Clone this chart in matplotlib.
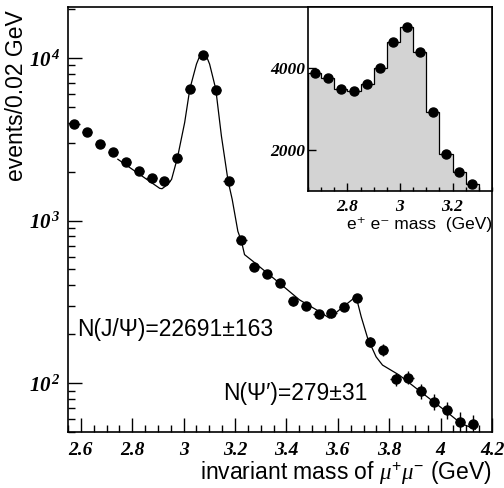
import matplotlib
matplotlib.use('Agg')
import math
import matplotlib.pyplot as plt
from matplotlib.ticker import MultipleLocator, LogLocator, NullFormatter, FuncFormatter

plt.rcParams['mathtext.fontset'] = 'custom'
plt.rcParams['mathtext.rm'] = 'Liberation Serif:bold:italic'
plt.rcParams['mathtext.it'] = 'Liberation Serif:italic'
plt.rcParams['mathtext.sf'] = 'Liberation Sans'

# mu+ mu- invariant mass spectrum (bin centres, counts, errors)
mass = [2.575, 2.625, 2.675, 2.725, 2.775, 2.825, 2.875, 2.925, 2.975, 3.025,
        3.075, 3.125, 3.175, 3.225, 3.275, 3.325, 3.375, 3.425, 3.475, 3.525,
        3.575, 3.625, 3.675, 3.725, 3.775, 3.825, 3.875, 3.925, 3.975, 4.025,
        4.075, 4.125]
counts = [3920, 3510, 2944, 2630, 2303, 2015, 1815, 1750, 2440, 6440,
          10430, 6370, 1750, 755, 517, 469, 412, 318, 298, 267,
          269, 293, 333, 180, 160, 106, 108, 89, 77, 68,
          58, 56]
errors = [63, 59, 54, 51, 48, 45, 43, 42, 49, 80,
          102, 80, 42, 27, 23, 22, 20, 18, 17, 16,
          16, 17, 18, 13, 13, 10, 10, 9, 9, 8,
          8, 7.5]

# fit curve
fit_x = [2.744, 2.907, 2.916, 2.938, 2.953, 2.976, 3.004, 3.024, 3.050, 3.061,
         3.075, 3.090, 3.101, 3.125, 3.147, 3.173, 3.189, 3.211, 3.225, 3.237,
         3.270, 3.373, 3.451, 3.529, 3.567, 3.606, 3.671, 3.691, 3.716, 3.749,
         3.774, 3.839, 3.924, 4.021, 4.079, 4.135]
fit_y = [2382, 1578, 1570, 1667, 1791, 2438, 4009, 6442, 9183, 10140,
         10590, 10140, 9183, 6442, 3311, 1750, 1349, 859, 745, 617,
         561, 412, 325, 275, 251, 282, 341, 256, 189, 145,
         129, 112, 88, 67, 56.5, 52]

# e+ e- inset histogram
ee_edges = [2.65, 2.70, 2.75, 2.80, 2.85, 2.90, 2.95, 3.00, 3.05, 3.10,
            3.15, 3.20, 3.25, 3.30]
ee_mass = [2.675, 2.725, 2.775, 2.825, 2.875, 2.925, 2.975, 3.025, 3.075,
           3.125, 3.175, 3.225, 3.275]
ee_counts = [3864, 3758, 3476, 3442, 3597, 3985, 4617, 4981, 4373,
             2915, 1895, 1473, 1164]

W, H = 504, 488
fig = plt.figure(figsize=(W / 100, H / 100), dpi=100)

ax = fig.add_axes([68 / W, 1 - 432 / H, 424 / W, 425 / H])
ax.errorbar(mass, counts, xerr=0.02, yerr=errors, fmt='o', color='black',
            ms=6.5, elinewidth=1, capsize=0)
ax.plot(fit_x, fit_y, color='black', lw=0.9)
ax.set_yscale('log')
ax.set_xlim(2.55, 4.2)
ax.set_ylim(50, 20600)

ax.xaxis.set_major_locator(MultipleLocator(0.2))
ax.xaxis.set_minor_locator(MultipleLocator(0.05))
ax.xaxis.set_major_formatter(FuncFormatter(lambda v, p: '%g' % round(v, 2)))
ax.yaxis.set_major_locator(LogLocator(base=10, numticks=10))
ax.yaxis.set_minor_locator(LogLocator(base=10, subs=range(2, 10), numticks=20))
ax.yaxis.set_minor_formatter(NullFormatter())
ax.yaxis.set_major_formatter(FuncFormatter(
    lambda v, p: r'$10^{\,%d}$' % round(math.log10(v))))
ax.tick_params(which='both', direction='in', top=False, right=False, width=1)
ax.tick_params(which='major', length=10)
ax.tick_params(which='minor', length=5)
ax.tick_params(axis='x', which='both', pad=7)
ax.tick_params(axis='y', which='both', pad=5)
for lab in ax.get_xticklabels():
    lab.set_fontfamily('Liberation Serif')
    lab.set_fontstyle('italic')
    lab.set_fontweight('bold')
    lab.set_fontsize(14)
for lab in ax.get_yticklabels():
    lab.set_fontsize(15)
for s in ax.spines.values():
    s.set_linewidth(1.2)

ax.text(2.585, 215, 'N(J/Ψ)=22691±163', family='Liberation Sans', fontsize=16.5,
        va='center', ha='left')
ax.text(3.152, 86, 'N(Ψ′)=279±31', family='Liberation Sans', fontsize=16.5,
        va='center', ha='left')

fig.text(17 / W, 1 - 10 / H, 'events/0.02 GeV', rotation=90, va='top',
         ha='center', family='Liberation Sans', fontsize=16.5)
fig.text(492 / W, 1 - 473 / H, r'invariant mass of $\mu^{\mathsf{+}}\mu^{\mathsf{-}}$ (GeV)',
         ha='right', va='center', family='Liberation Sans', fontsize=16.5)

# inset
axi = fig.add_axes([308 / W, 1 - 191 / H, 184 / W, 184 / H])
axi.stairs(ee_counts, ee_edges, fill=True, color='#d3d3d3')
axi.stairs(ee_counts, ee_edges, color='black', lw=0.9)
axi.plot(ee_mass, ee_counts, 'o', color='black', ms=6.5)
axi.set_xlim(2.65, 3.35)
axi.set_ylim(1000, 5480)
axi.xaxis.set_major_locator(MultipleLocator(0.2))
axi.xaxis.set_minor_locator(MultipleLocator(0.05))
axi.xaxis.set_major_formatter(FuncFormatter(lambda v, p: '%g' % round(v, 2)))
axi.yaxis.set_major_locator(MultipleLocator(2000))
axi.tick_params(which='both', direction='in', top=False, right=False, width=1)
axi.tick_params(which='major', length=6)
axi.tick_params(which='minor', length=3)
axi.tick_params(axis='x', which='both', pad=6)
axi.tick_params(axis='y', which='both', pad=2)
for lab in axi.get_xticklabels() + axi.get_yticklabels():
    lab.set_fontfamily('Liberation Serif')
    lab.set_fontstyle('italic')
    lab.set_fontweight('bold')
    lab.set_fontsize(12.5)
for s in axi.spines.values():
    s.set_linewidth(1.2)

fig.text(492 / W, 1 - 224 / H, 'e⁺ e⁻ mass  (GeV)', ha='right', va='center',
         family=['Liberation Sans', 'DejaVu Sans'], fontsize=12.5)

fig.savefig('out.png', dpi=100)
